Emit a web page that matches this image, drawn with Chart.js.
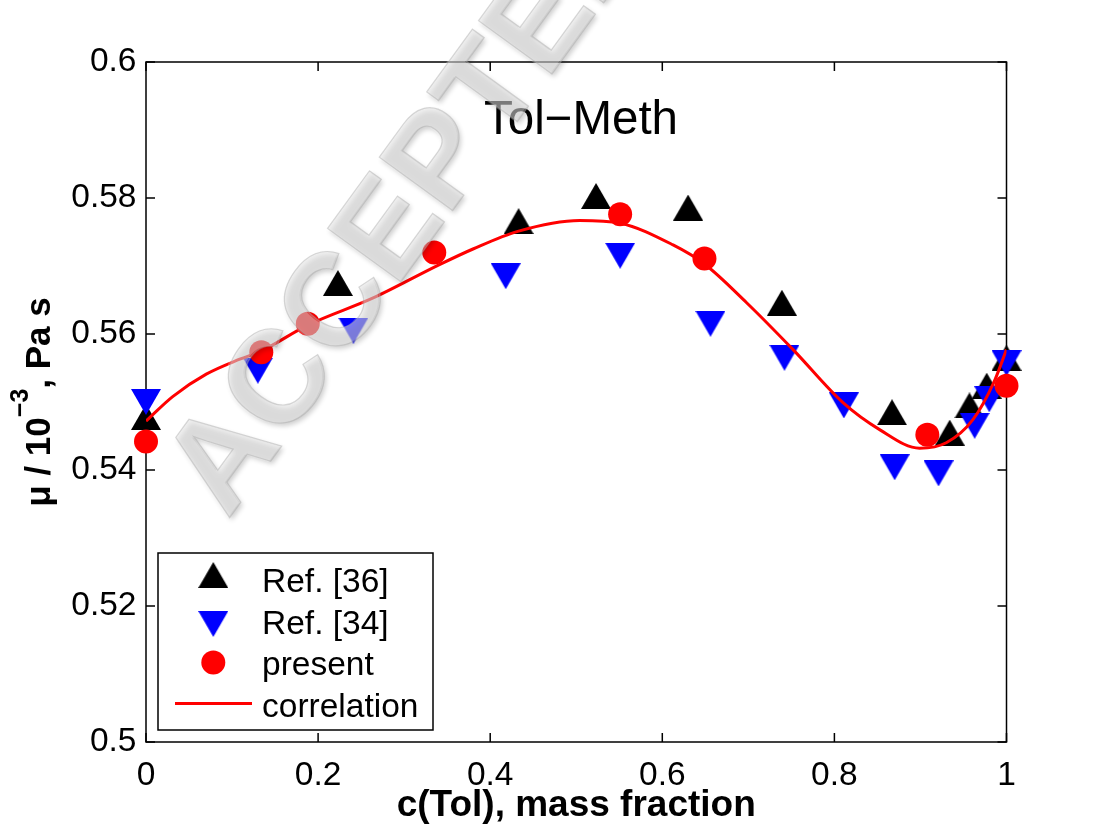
<!DOCTYPE html>
<html>
<head>
<meta charset="utf-8">
<title>Tol-Meth viscosity</title>
<script src="https://cdn.jsdelivr.net/npm/chart.js@4/dist/chart.umd.min.js"></script>
<style>
  html, body { margin: 0; padding: 0; background: #ffffff; }
  #wrap { width: 1110px; height: 835px; }
</style>
</head>
<body>
<div id="wrap"><canvas id="chart" width="1110" height="835"></canvas></div>
<script>
// Axis ticks
const xTickValues = [0, 0.2, 0.4, 0.6, 0.8, 1];
const xTickLabels = ['0', '0.2', '0.4', '0.6', '0.8', '1'];
const yTickValues = [0.5, 0.52, 0.54, 0.56, 0.58, 0.6];
const yTickLabels = ['0.5', '0.52', '0.54', '0.56', '0.58', '0.6'];

// Ref. [36]: toluene mass fraction and viscosity (10^-3 Pa s)
const ref36C  = [0, 0.223, 0.433, 0.523, 0.630, 0.739, 0.867, 0.934, 0.957, 0.977, 1.0];
const ref36Mu = [0.5478, 0.5675, 0.5766, 0.5803, 0.5786, 0.5646, 0.5485, 0.5455, 0.5495, 0.5524, 0.5565];

// Ref. [34]
const ref34C  = [0, 0.130, 0.241, 0.418, 0.551, 0.656, 0.742, 0.811, 0.870, 0.921, 0.963, 0.980, 1.0];
const ref34Mu = [0.5500, 0.5546, 0.5605, 0.5685, 0.5715, 0.5615, 0.5565, 0.5495, 0.5404, 0.5395, 0.5465, 0.5504, 0.5557];

// present measurements
const presentC  = [0, 0.134, 0.188, 0.335, 0.551, 0.649, 0.908, 1.0];
const presentMu = [0.5442, 0.5573, 0.5615, 0.5720, 0.5776, 0.5711, 0.5452, 0.5524];

// correlation curve
const corrC  = [0, 0.031, 0.070, 0.109, 0.134, 0.188, 0.264, 0.341, 0.380, 0.432, 0.504, 0.551, 0.6125, 0.649, 0.698, 0.752, 0.810, 0.853, 0.899, 0.930, 0.961, 0.985, 1.0];
const corrMu = [0.5472, 0.5508, 0.5541, 0.5563, 0.5575, 0.5613, 0.5653, 0.5702, 0.5725, 0.5751, 0.5767, 0.5763, 0.5731, 0.5703, 0.5646, 0.5577, 0.5499, 0.5459, 0.5432, 0.5440, 0.5474, 0.5528, 0.5577];

const FONT = '"Liberation Sans", Arial, Helvetica, sans-serif';
const toPoints = (xs, ys) => xs.map((x, i) => ({ x: x, y: ys[i] }));

// triangle marker sprites (bounding box centred on the data point)
function triangleSprite(color, up) {
  const w = 30, h = 26;
  const c = document.createElement('canvas');
  c.width = w; c.height = h;
  const g = c.getContext('2d');
  g.fillStyle = color;
  g.beginPath();
  if (up) { g.moveTo(w / 2, 0); g.lineTo(w, h); g.lineTo(0, h); }
  else    { g.moveTo(0, 0); g.lineTo(w, 0); g.lineTo(w / 2, h); }
  g.closePath();
  g.fill();
  return c;
}
const upTri = triangleSprite('#000000', true);
const downTri = triangleSprite('#0000ff', false);

const decorations = {
  id: 'decorations',
  beforeDatasetsDraw(chart) {
    const { ctx, chartArea: a, scales } = chart;
    ctx.save();
    ctx.strokeStyle = '#000';
    ctx.lineWidth = 1.5;
    ctx.strokeRect(a.left, a.top, a.right - a.left, a.bottom - a.top);
    const tl = 9;
    ctx.beginPath();
    xTickValues.forEach(v => {
      const px = scales.x.getPixelForValue(v);
      ctx.moveTo(px, a.bottom); ctx.lineTo(px, a.bottom - tl);
      ctx.moveTo(px, a.top); ctx.lineTo(px, a.top + tl);
    });
    yTickValues.forEach(v => {
      const py = scales.y.getPixelForValue(v);
      ctx.moveTo(a.left, py); ctx.lineTo(a.left + tl, py);
      ctx.moveTo(a.right, py); ctx.lineTo(a.right - tl, py);
    });
    ctx.stroke();
    ctx.restore();
  },
  afterDraw(chart) {
    const { ctx, chartArea: a } = chart;
    ctx.save();

    // panel title inside the axes
    ctx.fillStyle = '#000';
    ctx.font = '47.5px ' + FONT;
    ctx.textAlign = 'center';
    ctx.textBaseline = 'alphabetic';
    ctx.fillText('Tol\u2212Meth', 581, 134);

    // x axis title
    ctx.font = 'bold 37px ' + FONT;
    ctx.fillText('c(Tol), mass fraction', (a.left + a.right) / 2, 816);

    // y axis title with superscript exponent
    ctx.save();
    ctx.translate(50, (a.top + a.bottom) / 2);
    ctx.rotate(-Math.PI / 2);
    ctx.textAlign = 'left';
    const mainFont = 'bold 35px ' + FONT;
    const supFont = 'bold 25px ' + FONT;
    const parts = [
      { t: '\u03bc / 10', f: mainFont, dy: 0 },
      { t: '\u22123', f: supFont, dy: -22 },
      { t: ', Pa s', f: mainFont, dy: 0 }
    ];
    let total = 0;
    parts.forEach(p => { ctx.font = p.f; p.w = ctx.measureText(p.t).width; total += p.w; });
    let x = -total / 2;
    parts.forEach(p => { ctx.font = p.f; ctx.fillText(p.t, x, p.dy); x += p.w; });
    ctx.restore();

    // legend
    ctx.fillStyle = '#fff';
    ctx.fillRect(158, 553, 275, 177);
    ctx.strokeStyle = '#000';
    ctx.lineWidth = 1.5;
    ctx.strokeRect(158, 553, 275, 177);
    const mx = 213.3, tx = 262;
    ctx.drawImage(upTri, mx - upTri.width / 2, 575 - upTri.height / 2);
    ctx.drawImage(downTri, mx - downTri.width / 2, 624 - downTri.height / 2);
    ctx.fillStyle = '#ff0000';
    ctx.beginPath(); ctx.arc(mx, 662.5, 12, 0, Math.PI * 2); ctx.fill();
    ctx.strokeStyle = '#ff0000';
    ctx.lineWidth = 3;
    ctx.beginPath(); ctx.moveTo(175, 703.5); ctx.lineTo(252, 703.5); ctx.stroke();
    ctx.fillStyle = '#000';
    ctx.font = '33.5px ' + FONT;
    ctx.textAlign = 'left';
    ctx.fillText('Ref. [36]', tx, 591.7);
    ctx.fillText('Ref. [34]', tx, 633.5);
    ctx.fillText('present', tx, 675);
    ctx.fillText('correlation', tx, 716.7);

    // embossed manuscript stamp
    ctx.save();
    ctx.translate(403, 199);
    ctx.rotate(-54 * Math.PI / 180);
    ctx.font = 'bold 132px ' + FONT;
    ctx.textAlign = 'center';
    ctx.textBaseline = 'alphabetic';
    ctx.shadowColor = 'rgba(0,0,0,0.5)';
    ctx.shadowBlur = 5;
    ctx.shadowOffsetX = 2;
    ctx.shadowOffsetY = 3;
    ctx.fillStyle = 'rgba(205,205,205,0.38)';
    ctx.fillText('ACCEPTED', 0, 47);
    ctx.shadowColor = 'transparent';
    ctx.fillStyle = 'rgba(255,255,255,0.25)';
    ctx.fillText('ACCEPTED', -1.5, 45.5);
    ctx.lineWidth = 1.2;
    ctx.strokeStyle = 'rgba(165,165,165,0.4)';
    ctx.strokeText('ACCEPTED', 0, 47);
    ctx.restore();

    ctx.restore();
  }
};

new Chart(document.getElementById('chart'), {
  type: 'scatter',
  data: {
    datasets: [
      {
        type: 'line',
        label: 'correlation',
        data: toPoints(corrC, corrMu),
        showLine: true,
        borderColor: '#ff0000',
        borderWidth: 3,
        pointRadius: 0,
        fill: false,
        cubicInterpolationMode: 'monotone',
        order: 0
      },
      {
        label: 'present',
        data: toPoints(presentC, presentMu),
        pointStyle: 'circle',
        pointRadius: 12,
        backgroundColor: '#ff0000',
        borderWidth: 0,
        clip: false,
        order: 1
      },
      {
        label: 'Ref. [34]',
        data: toPoints(ref34C, ref34Mu),
        pointStyle: downTri,
        pointRadius: 15,
        clip: false,
        order: 2
      },
      {
        label: 'Ref. [36]',
        data: toPoints(ref36C, ref36Mu),
        pointStyle: upTri,
        pointRadius: 15,
        clip: false,
        order: 3
      }
    ]
  },
  options: {
    responsive: false,
    animation: false,
    devicePixelRatio: 1,
    events: [],
    layout: { padding: { left: 0, top: 62, right: 103.5, bottom: 0 } },
    plugins: { legend: { display: false }, tooltip: { enabled: false } },
    scales: {
      x: {
        type: 'linear',
        min: 0, max: 1,
        afterBuildTicks: s => { s.ticks = xTickValues.map(v => ({ value: v })); },
        afterFit: s => { s.height = 93; },
        ticks: {
          callback: (v, i) => xTickLabels[i],
          font: { family: FONT, size: 33.5 },
          color: '#000',
          padding: 14,
          maxRotation: 0,
          autoSkip: false
        },
        grid: { display: false, drawTicks: false, tickLength: 0 },
        border: { display: false }
      },
      y: {
        type: 'linear',
        min: 0.5, max: 0.6,
        afterBuildTicks: s => { s.ticks = yTickValues.map(v => ({ value: v })); },
        afterFit: s => { s.width = 146; },
        ticks: {
          callback: (v, i) => yTickLabels[i],
          font: { family: FONT, size: 33.5 },
          color: '#000',
          padding: 9.5,
          autoSkip: false
        },
        grid: { display: false, drawTicks: false, tickLength: 0 },
        border: { display: false }
      }
    }
  },
  plugins: [decorations]
});
</script>
</body>
</html>
